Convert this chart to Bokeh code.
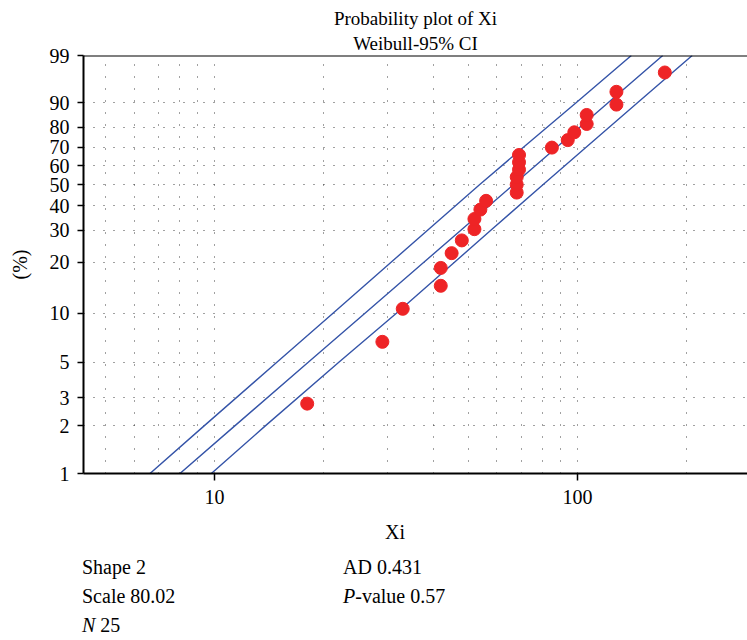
import math
from bokeh.plotting import figure
from bokeh.layouts import column
from bokeh.models import Range1d, FixedTicker, CustomJSTickFormatter, Span, Title, Div
from bokeh.embed import file_html
from bokeh.resources import INLINE

# ---------------- data ----------------
title_line1 = "Probability plot of Xi"
title_line2 = "Weibull-95% CI"
x_label = "Xi"
y_label = "(%)"

# observed values (sorted) and their median-rank plotting positions (%)
xi = [18, 29, 33, 42, 42, 45, 48, 52, 52, 54, 56, 68, 68, 68, 69, 69, 69,
      85, 94, 98, 106, 106, 128, 128, 174]
pct = [2.76, 6.69, 10.63, 14.57, 18.50, 22.44, 26.38, 30.31, 34.25, 38.19,
       42.13, 46.06, 50.00, 53.94, 57.87, 61.81, 65.75, 69.69, 73.62, 77.56,
       81.50, 85.43, 89.37, 93.31, 97.24]

# fitted line and 95% confidence band (percent -> x)
ci_pct = [1, 2, 5, 10, 20, 30, 50, 70, 90, 99]
fit_x = [8.03, 11.37, 18.12, 25.97, 37.8, 47.8, 66.6, 87.8, 121.4, 171.7]
ci_left_x = [6.64, 9.36, 14.85, 21.2, 30.7, 38.7, 53.7, 71.1, 99.1, 140.7]
ci_right_x = [9.8, 13.8, 22.0, 31.7, 45.9, 57.8, 80.3, 105.8, 146.3, 207.0]

y_tick_pct = [1, 2, 3, 5, 10, 20, 30, 40, 50, 60, 70, 80, 90, 99]
y_grid_pct = [2, 3, 5, 10, 20, 30, 40, 50, 60, 70, 80, 90]
x_tick_vals = [10, 100]
x_grid_vals = [5, 6, 7, 8, 9, 10, 20, 30, 40, 50, 60, 70, 80, 90, 100, 200]

stat_shape = "2"
stat_scale = "80.02"
stat_n = "25"
stat_ad = "0.431"
stat_p = "0.57"


def weib(p):
    return math.log(-math.log(1.0 - p / 100.0))


FONT = "Liberation Serif"
FS = "20px"
TITLE_FS = "19px"
RED = "#ee2426"
BLUE = "#3554a8"
W = 747
MAIN_H = 515
BOT_H = 125

# ---- main probability plot ----
p = figure(width=W, height=MAIN_H, x_axis_type="log",
           x_range=Range1d(4.355, 294.0),
           y_range=Range1d(weib(1), weib(99)),
           output_backend="svg", toolbar_location=None,
           min_border_left=83, min_border_right=0,
           min_border_top=55, min_border_bottom=42)
p.outline_line_color = None
p.title = None


def add_title(text, standoff):
    p.add_layout(Title(text=text, align="center", offset=5,
                       text_font=FONT, text_font_size=TITLE_FS, text_font_style="normal",
                       text_color="black", standoff=standoff), "above")


add_title(title_line2, 3)   # closest to the frame
add_title(title_line1, 1)

p.xgrid.ticker = FixedTicker(ticks=x_grid_vals)
p.ygrid.ticker = FixedTicker(ticks=[weib(v) for v in y_grid_pct])
for g in (p.xgrid, p.ygrid):
    g.grid_line_color = "#222222"
    g.grid_line_alpha = 0.85
    g.grid_line_width = 1
p.xgrid.grid_line_dash = "1 11"
p.ygrid.grid_line_dash = "1 9"

p.xaxis.ticker = FixedTicker(ticks=x_tick_vals)
p.xaxis.formatter = CustomJSTickFormatter(code="return Math.round(tick).toString();")
p.yaxis.ticker = FixedTicker(ticks=[weib(v) for v in y_tick_pct])
p.yaxis.formatter = CustomJSTickFormatter(
    code="return String(Math.round(100*(1-Math.exp(-Math.exp(tick)))));")
for ax in (p.xaxis, p.yaxis):
    ax.axis_line_width = 2
    ax.axis_line_color = "black"
    ax.major_tick_line_width = 1.5
    ax.major_tick_line_color = "black"
    ax.major_tick_in = 0
    ax.minor_tick_line_color = None
    ax.major_label_text_font = FONT
    ax.major_label_text_font_size = FS
    ax.major_label_text_color = "black"
p.xaxis.major_tick_out = 7
p.xaxis.major_label_standoff = 9
p.yaxis.major_tick_out = 6
p.yaxis.major_label_standoff = 8
p.yaxis.axis_label = y_label
p.yaxis.axis_label_text_font = FONT
p.yaxis.axis_label_text_font_size = FS
p.yaxis.axis_label_text_font_style = "normal"
p.yaxis.axis_label_text_color = "black"
p.yaxis.axis_label_standoff = 16

p.add_layout(Span(location=weib(99), dimension="width", line_color="black", line_width=2))

p.line(ci_left_x, [weib(v) for v in ci_pct], line_color=BLUE, line_width=1.4)
p.line(fit_x, [weib(v) for v in ci_pct], line_color=BLUE, line_width=1.4)
p.line(ci_right_x, [weib(v) for v in ci_pct], line_color=BLUE, line_width=1.4)

p.scatter(xi, [weib(v) for v in pct], size=13, fill_color=RED, line_color=RED)

# ---- x label and statistics (below the plot) ----
ASC = 17  # approx. distance from box top to baseline for 20px / line-height 20px


def span(left, baseline, html):
    return ('<span style="position:absolute;left:%dpx;top:%dpx;white-space:nowrap;">%s</span>'
            % (left, baseline - ASC, html))


items = [
    span(385, 24, x_label),
    span(82, 59, "Shape " + stat_shape),
    span(82, 88, "Scale " + stat_scale),
    span(82, 117, "<i>N</i> " + stat_n),
    span(343, 59, "AD " + stat_ad),
    span(343, 88, "<i>P</i>-value " + stat_p),
]
html = ('<div style="position:relative;width:%dpx;height:%dpx;font-family:\'%s\';'
        'font-size:%s;line-height:20px;color:black;margin:0;padding:0;">%s</div>'
        % (W, BOT_H, FONT, FS, "".join(items)))
bot = Div(text=html, width=W, height=BOT_H, margin=0)

layout = column(p, bot, spacing=0)
open("out.html", "w").write(file_html(layout, INLINE))
